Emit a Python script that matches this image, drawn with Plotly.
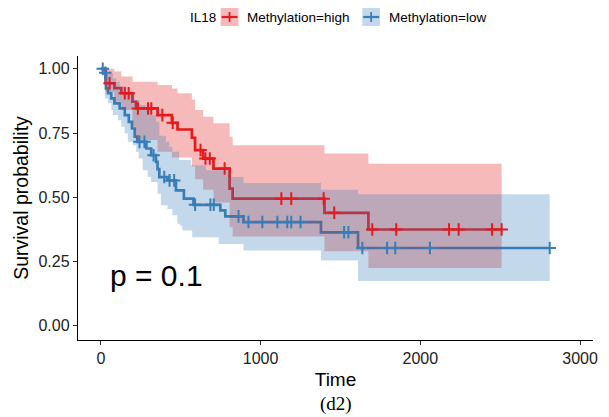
import numpy as np
import plotly.graph_objects as go

# Kaplan-Meier curve, IL18 methylation = high
high_time = [0, 30, 85, 128, 198, 220, 355, 445, 480, 570, 590, 640, 705, 806, 825, 1400, 1675, 2509]
high_surv = [1.0, 0.944, 0.925, 0.905, 0.872, 0.846, 0.82, 0.79, 0.764, 0.732, 0.684, 0.651, 0.612,
             0.534, 0.495, 0.44, 0.375, 0.375]
high_censor = [55, 150, 174, 232, 295, 316, 385, 450, 624, 655, 682, 775, 1130, 1192, 1395, 1461,
               1699, 1849, 2180, 2240, 2449, 2509]
high_upper_t = [0, 85, 128, 198, 355, 445, 480, 570, 590, 640, 705, 806, 825, 1400, 1675, 2509]
high_upper = [1.0, 0.99, 0.97, 0.95, 0.9375, 0.924, 0.905, 0.88, 0.84, 0.814, 0.788, 0.736, 0.703,
              0.671, 0.631, 0.631]
high_lower_t = [0, 30, 85, 128, 198, 220, 355, 445, 570, 590, 640, 705, 806, 825, 1400, 1675, 2509]
high_lower = [1.0, 0.91, 0.872, 0.84, 0.775, 0.723, 0.677, 0.655, 0.62, 0.57, 0.53, 0.48, 0.384,
              0.348, 0.29, 0.225, 0.225]

# Kaplan-Meier curve, IL18 methylation = low
low_time = [0, 25, 32, 45, 65, 85, 118, 150, 175, 195, 212, 228, 285, 315, 345, 355, 366, 418, 470,
            520, 580, 748, 779, 893, 1378, 1610, 2810]
low_surv = [1.0, 0.985, 0.924, 0.905, 0.885, 0.866, 0.846, 0.82, 0.794, 0.768, 0.736, 0.716, 0.69,
            0.664, 0.638, 0.61, 0.579, 0.566, 0.527, 0.495, 0.471, 0.449, 0.426, 0.404, 0.364,
            0.303, 0.303]
low_censor = [12, 28, 242, 273, 330, 397, 430, 459, 590, 686, 707, 862, 924, 1011, 1105, 1167, 1192,
              1250, 1523, 1550, 1637, 1792, 1843, 2060, 2810]
low_upper_t = [0, 25, 76, 97, 118, 159, 211, 242, 283, 314, 345, 366, 407, 428, 448, 490, 564, 657,
               800, 893, 1378, 1610, 2810]
low_upper = [1.0, 0.983, 0.963, 0.95, 0.931, 0.905, 0.879, 0.859, 0.84, 0.82, 0.794, 0.74, 0.716,
             0.697, 0.677, 0.645, 0.625, 0.605, 0.579, 0.556, 0.53, 0.512, 0.512]
low_lower_t = [0, 25, 45, 66, 76, 107, 128, 149, 169, 200, 221, 237, 262, 293, 314, 355, 376, 417,
               448, 479, 496, 510, 572, 738, 893, 1378, 1610, 2810]
low_lower = [1.0, 0.885, 0.866, 0.84, 0.82, 0.80, 0.775, 0.749, 0.716, 0.703, 0.677, 0.651, 0.605,
             0.579, 0.56, 0.514, 0.469, 0.455, 0.43, 0.397, 0.39, 0.371, 0.345, 0.319, 0.293,
             0.254, 0.175, 0.175]

x_ticks = [0, 1000, 2000, 3000]
y_ticks = [0.0, 0.25, 0.50, 0.75, 1.00]
group_title = "IL18"
group_labels = ["Methylation=high", "Methylation=low"]
p_label = "p = 0.1"
panel_tag = "(d2)"

RED = "#E41A1C"
BLUE = "#377EB8"
RED_FILL = "rgba(228,26,28,0.3)"
BLUE_FILL = "rgba(55,126,184,0.3)"
FONT = "Liberation Sans, Arial, sans-serif"

W, H = 609, 417
ML, MR, MT, MB = 78, 11, 56, 77
PW, PH = W - ML - MR, H - MT - MB


def step_value(times, surv, t):
    i = np.searchsorted(np.asarray(times), t, side="right") - 1
    return surv[i]


fig = go.Figure()

# survival step curves (drawn first so the ribbons tint them)
for t, s, c in [(high_time, high_surv, RED), (low_time, low_surv, BLUE)]:
    fig.add_trace(go.Scatter(x=t, y=s, mode="lines", line=dict(color=c, width=2.7, shape="hv"),
                             showlegend=False, hoverinfo="skip"))

# confidence ribbons
for lt, lv, ut, uv, fc in [(high_lower_t, high_lower, high_upper_t, high_upper, RED_FILL),
                           (low_lower_t, low_lower, low_upper_t, low_upper, BLUE_FILL)]:
    fig.add_trace(go.Scatter(x=lt, y=lv, mode="lines", line=dict(width=0, shape="hv"),
                             showlegend=False, hoverinfo="skip"))
    fig.add_trace(go.Scatter(x=ut, y=uv, mode="lines", line=dict(width=0, shape="hv"),
                             fill="tonexty", fillcolor=fc, showlegend=False, hoverinfo="skip"))

# censoring marks
for t, s, cens, c in [(high_time, high_surv, high_censor, RED), (low_time, low_surv, low_censor, BLUE)]:
    fig.add_trace(go.Scatter(x=cens, y=[step_value(t, s, v) for v in cens], mode="markers",
                             marker=dict(symbol="cross-thin", size=9, line=dict(color=c, width=2)),
                             showlegend=False, hoverinfo="skip"))

fig.add_annotation(x=45, y=0.197, xref="x", yref="y", text=p_label, showarrow=False,
                   xanchor="left", yanchor="middle", font=dict(family=FONT, size=30, color="black"))


def px(xp):
    return (xp - ML) / PW


def py(yp):
    return (H - MB - yp) / PH


# legend row
leg_y = 17
fig.add_annotation(x=px(189), y=py(leg_y), xref="paper", yref="paper", text=group_title,
                   showarrow=False, xanchor="left", yanchor="middle",
                   font=dict(family=FONT, size=13.5, color="black"))
shapes = []
for (x0, lab, c, fc) in [(222, group_labels[0], RED, RED_FILL), (365, group_labels[1], BLUE, BLUE_FILL)]:
    shapes.append(dict(type="rect", xref="paper", yref="paper", x0=px(x0), x1=px(x0 + 18),
                       y0=py(leg_y + 9), y1=py(leg_y - 9), fillcolor=fc, line=dict(width=0)))
    shapes.append(dict(type="line", xref="paper", yref="paper", x0=px(x0 + 1), x1=px(x0 + 17),
                       y0=py(leg_y), y1=py(leg_y), line=dict(color=c, width=2.2)))
    shapes.append(dict(type="line", xref="paper", yref="paper", x0=px(x0 + 9), x1=px(x0 + 9),
                       y0=py(leg_y - 5), y1=py(leg_y + 5), line=dict(color=c, width=1.8)))
    fig.add_annotation(x=px(x0 + 25), y=py(leg_y), xref="paper", yref="paper", text=lab,
                       showarrow=False, xanchor="left", yanchor="middle",
                       font=dict(family=FONT, size=13.5, color="black"))

fig.add_annotation(x=0.5, y=py(404), xref="paper", yref="paper", text=panel_tag, showarrow=False,
                   xanchor="center", yanchor="middle",
                   font=dict(family="Liberation Serif, Times New Roman, serif", size=19, color="black"))

axis_common = dict(showgrid=False, zeroline=False, showline=True, linecolor="black", linewidth=1.4,
                   ticks="outside", ticklen=4, tickwidth=1.1, tickcolor="#333333",
                   tickfont=dict(family=FONT, size=16, color="#222222"))

fig.update_layout(
    width=W, height=H,
    margin=dict(l=ML, r=MR, t=MT, b=MB, pad=0),
    paper_bgcolor="white", plot_bgcolor="white",
    shapes=shapes,
    xaxis=dict(range=[-143, 3081], tickvals=x_ticks, ticktext=[str(v) for v in x_ticks],
               title=dict(text="Time", font=dict(family=FONT, size=19, color="black"), standoff=6),
               **axis_common),
    yaxis=dict(range=[-0.055, 1.05], tickvals=y_ticks, ticktext=[f"{v:.2f}" for v in y_ticks],
               title=dict(text="Survival probability", font=dict(family=FONT, size=19.5, color="black"),
                          standoff=4),
               **axis_common),
    showlegend=False,
)

fig.write_html("out.html")
